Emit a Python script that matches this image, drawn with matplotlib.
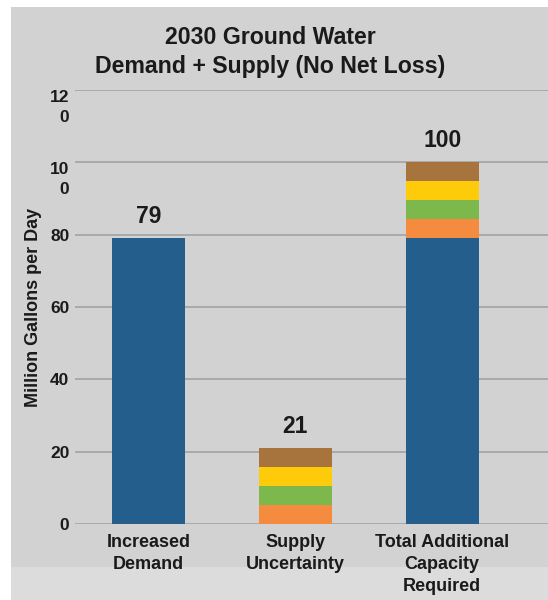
import matplotlib.pyplot as plt
from matplotlib.patches import Rectangle

# Data
categories = ['Increased\nDemand', 'Supply\nUncertainty', 'Total Additional\nCapacity\nRequired']
demand = [79, 0, 79]
seg_orange = [0, 5.25, 5.25]
seg_green = [0, 5.25, 5.25]
seg_yellow = [0, 5.25, 5.25]
seg_brown = [0, 5.25, 5.25]
totals = [79, 21, 100]
yticks = [0, 20, 40, 60, 80, 100, 120]
ytick_labels = ['0', '20', '40', '60', '80', '10\n0', '12\n0']

plt.rcParams['font.family'] = ['Liberation Sans', 'DejaVu Sans']
plt.rcParams['font.weight'] = 'bold'

fig = plt.figure(figsize=(5.48, 6), dpi=100, facecolor='white')

# gray panel behind everything
fig.patches.append(Rectangle((11 / 548, 33 / 600), 1, 560 / 600, transform=fig.transFigure,
                             facecolor='#d2d2d2', edgecolor='none', zorder=-2))
fig.patches.append(Rectangle((11 / 548, 0), 1, 33 / 600, transform=fig.transFigure,
                             facecolor='#dcdcdc', edgecolor='none', zorder=-2))

ax = fig.add_axes([75 / 548, 76 / 600, 473 / 548, 434 / 600])
ax.set_facecolor('none')

x = range(len(categories))
w = 0.5
ax.bar(x, demand, w, color='#235e8c', zorder=3)
bottom = list(demand)
for seg, col in [(seg_orange, '#f58b3f'), (seg_green, '#7cb84c'),
                 (seg_yellow, '#fdcb0a'), (seg_brown, '#a8743e')]:
    ax.bar(x, seg, w, bottom=bottom, color=col, zorder=3)
    bottom = [b + s for b, s in zip(bottom, seg)]

for i, t in enumerate(totals):
    ax.text(i, t + 2.8, str(t), ha='center', va='bottom', fontsize=16.5, fontweight='bold',
            color='#1a1a1a')

ax.set_ylim(0, 120)
ax.set_xlim(-0.5, 2.72)
ax.set_yticks(yticks)
ax.set_yticklabels(ytick_labels, linespacing=1.4)
for lab in ax.get_yticklabels()[5:]:
    lab.set_verticalalignment('top')
ax.set_xticks(list(x))
ax.set_xticklabels(categories, linespacing=1.4)
ax.tick_params(axis='y', length=0, labelsize=12.5, labelcolor='#1a1a1a', pad=4)
ax.tick_params(axis='x', length=0, labelsize=13, labelcolor='#1a1a1a', pad=7)
ax.grid(axis='y', color='#9e9e9e', linewidth=1.1, zorder=0)
for s in ax.spines.values():
    s.set_visible(False)

ax.set_ylabel('Million Gallons per Day', fontsize=13, fontweight='bold', color='#1a1a1a',
              labelpad=6)

fig.text(0.493, 0.913, '2030 Ground Water\nDemand + Supply (No Net Loss)', ha='center',
         va='center', fontsize=16.7, fontweight='bold', color='#1a1a1a', linespacing=1.3)

fig.savefig('out.png', dpi=100)
